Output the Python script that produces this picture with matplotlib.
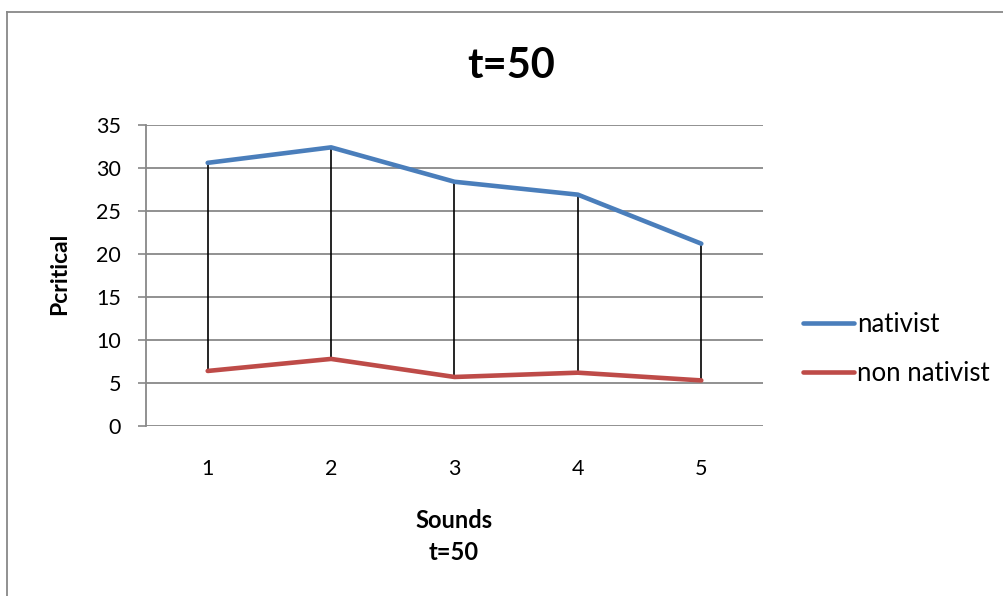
import matplotlib
matplotlib.use("Agg")
import matplotlib.pyplot as plt
from matplotlib.lines import Line2D

plt.rcParams['font.family'] = ['Lato', 'DejaVu Sans']

sounds = [1, 2, 3, 4, 5]
nativist = [30.6, 32.4, 28.4, 26.9, 21.2]
non_nativist = [6.4, 7.8, 5.7, 6.2, 5.3]
y_ticks = [0, 5, 10, 15, 20, 25, 30, 35]

W, H = 1004, 596
fig = plt.figure(figsize=(W / 100, H / 100), dpi=100)
ax = fig.add_axes([146 / W, 1 - 426 / H, (763 - 146) / W, (426 - 125) / H])

grid_col = '#888888'
for v in y_ticks:
    ax.axhline(v, color=grid_col, lw=1.3, zorder=1)

# high-low lines between the two series
ax.vlines(sounds, non_nativist, nativist, colors='black', lw=1.2, zorder=2)

ax.plot(sounds, nativist, color='#4A7EBB', lw=3.3, solid_capstyle='round', zorder=3, label='nativist')
ax.plot(sounds, non_nativist, color='#BE4B48', lw=3.3, solid_capstyle='round', zorder=3, label='non nativist')

ax.set_xlim(0.5, 5.5)
ax.set_ylim(0, 35)
ax.set_xticks(sounds)
ax.set_yticks(y_ticks)
ax.tick_params(axis='x', length=0, pad=24, labelsize=15.5)
ax.tick_params(axis='y', length=6, width=1.2, color=grid_col, pad=12, labelsize=15.5)
for s in ['top', 'right', 'bottom']:
    ax.spines[s].set_visible(False)
ax.spines['left'].set_color(grid_col)
ax.spines['left'].set_linewidth(1.3)

fig.text(511 / W, 1 - 66 / H, 't=50', ha='center', va='center', fontsize=30, fontweight='bold')
fig.text(60 / W, 1 - 274 / H, 'Pcritical', ha='center', va='center', rotation=90,
         fontsize=16.5, fontweight='bold')
fig.text(454 / W, 1 - 521 / H, 'Sounds', ha='center', va='center', fontsize=17, fontweight='bold')
fig.text(454 / W, 1 - 553 / H, 't=50', ha='center', va='center', fontsize=17, fontweight='bold')

leg = fig.legend(loc='center left', bbox_to_anchor=(803 / W, 1 - 349 / H), frameon=False,
                 borderpad=0, borderaxespad=0,
                 fontsize=18.5, handlelength=2.0, handletextpad=0.12, labelspacing=0.9)

# chart border
fig.add_artist(Line2D([7 / W, 1], [1 - 12 / H, 1 - 12 / H], color='#888888', lw=1.3))
fig.add_artist(Line2D([7 / W, 7 / W], [1 - 12 / H, 0], color='#888888', lw=1.3))

fig.savefig('out.png', dpi=100, facecolor='white')
